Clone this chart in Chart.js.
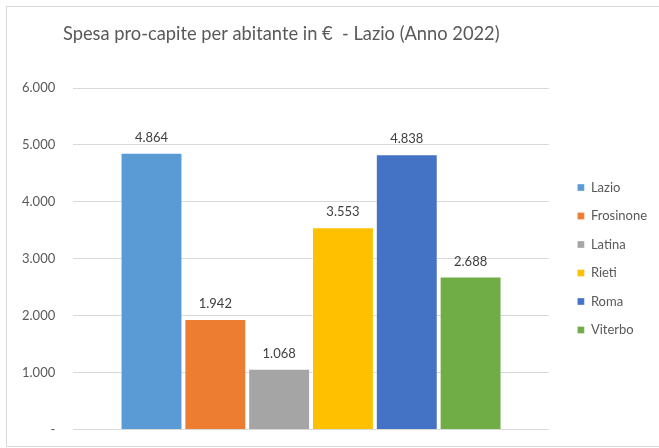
<!DOCTYPE html>
<html>
<head>
<meta charset="utf-8">
<script src="https://cdn.jsdelivr.net/npm/chart.js@4"></script>
<style>
  html, body { margin: 0; padding: 0; background: #ffffff; }
  #wrap { position: relative; width: 659px; height: 448px; }
</style>
</head>
<body>
<div id="wrap"><canvas id="c" width="659" height="448"></canvas></div>
<script>
const chartTitle = 'Spesa pro-capite per abitante in €  - Lazio (Anno 2022)';
const categories = ['Lazio', 'Frosinone', 'Latina', 'Rieti', 'Roma', 'Viterbo'];
const values = [4864, 1942, 1068, 3553, 4838, 2688];
const colors = ['#5B9BD5', '#ED7D31', '#A5A5A5', '#FFC000', '#4472C4', '#70AD47'];
const yTicks = [0, 1000, 2000, 3000, 4000, 5000, 6000];

const FONT = 'Lato, "Open Sans", sans-serif';
const fmt = v => v === 0 ? '-' : v.toLocaleString('it-IT');

const frameAndTitle = {
  id: 'frameAndTitle',
  beforeDraw(chart) {
    const ctx = chart.ctx;
    ctx.save();
    ctx.strokeStyle = '#d9d9d9';
    ctx.lineWidth = 1;
    ctx.strokeRect(6.5, 6.5, 660, 440);
    ctx.restore();
  },
  afterDraw(chart) {
    const ctx = chart.ctx;
    ctx.save();
    ctx.fillStyle = '#595959';
    ctx.font = '18.3px ' + FONT;
    ctx.textBaseline = 'middle';
    ctx.textAlign = 'left';
    ctx.fillText(chartTitle, 63, 34);
    ctx.restore();
  }
};

const valueLabels = {
  id: 'valueLabels',
  afterDatasetsDraw(chart) {
    const ctx = chart.ctx;
    ctx.save();
    ctx.fillStyle = '#404040';
    ctx.font = '13px ' + FONT;
    ctx.textAlign = 'center';
    ctx.textBaseline = 'middle';
    chart.data.datasets.forEach((ds, i) => {
      const meta = chart.getDatasetMeta(i);
      meta.data.forEach((el, j) => {
        ctx.fillText(fmt(ds.data[j]), el.x, el.y - 15);
      });
    });
    ctx.restore();
  }
};

new Chart(document.getElementById('c'), {
  type: 'bar',
  data: {
    labels: [''],
    datasets: categories.map((name, i) => ({
      label: name,
      data: [values[i]],
      backgroundColor: colors[i],
      borderColor: 'rgba(255,255,255,0.35)',
      borderWidth: 1,
      categoryPercentage: 0.805,
      barPercentage: 0.97
    }))
  },
  options: {
    responsive: false,
    animation: false,
    devicePixelRatio: 1,
    layout: { padding: { top: 88, left: 4, right: 2, bottom: 18.5 } },
    scales: {
      x: {
        display: false
      },
      y: {
        min: 0,
        max: 6000,
        afterBuildTicks(scale) { scale.ticks = yTicks.map(v => ({ value: v })); },
        afterFit(scale) { scale.paddingTop = 0; scale.paddingBottom = 0; },
        grid: { color: '#d9d9d9', drawTicks: false },
        border: { display: false },
        ticks: {
          padding: 18,
          color: '#595959',
          font: { family: FONT, size: 13 },
          callback: v => fmt(v)
        }
      },
      spacer: {
        type: 'linear',
        position: 'right',
        display: true,
        grid: { display: false },
        border: { display: false },
        ticks: { display: false },
        afterFit(scale) { scale.width = 13; }
      }
    },
    plugins: {
      title: { display: false },
      tooltip: { enabled: false },
      legend: {
        position: 'right',
        labels: {
          boxWidth: 7,
          boxHeight: 7,
          padding: 15.5,
          color: '#595959',
          font: { family: FONT, size: 13 }
        }
      }
    }
  },
  plugins: [frameAndTitle, valueLabels]
});
</script>
</body>
</html>
